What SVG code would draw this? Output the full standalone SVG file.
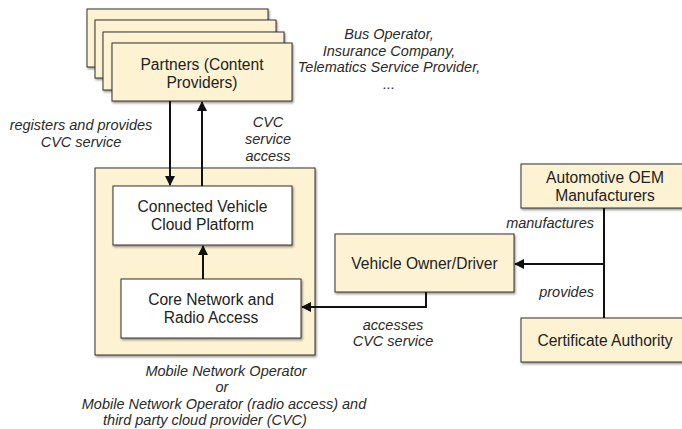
<svg xmlns="http://www.w3.org/2000/svg" width="682" height="429" viewBox="0 0 682 429">
<style>
  .box{fill:#fdf2d2;stroke:#333;stroke-width:1;filter:url(#sh);}
  .wbox{fill:#ffffff;stroke:#333;stroke-width:1;filter:url(#sh);}
  .t{font-family:"Liberation Sans",Arial,sans-serif;font-size:15.6px;fill:#222;text-anchor:middle;}
  .lab{font-family:"Liberation Sans",Arial,sans-serif;font-size:14.5px;font-style:italic;fill:#2a2a2a;text-anchor:middle;}
  .con{fill:none;stroke:#111;stroke-width:2;}
</style>
<defs>
  <filter id="sh" x="-10%" y="-10%" width="130%" height="140%">
    <feDropShadow dx="1" dy="1.5" stdDeviation="1" flood-color="#000" flood-opacity="0.45"/>
  </filter>
  <marker id="ah" viewBox="0 0 10 10" refX="9" refY="5" markerWidth="5.5" markerHeight="5" orient="auto" markerUnits="strokeWidth">
    <path d="M0,0 L10,5 L0,10 z" fill="#111"/>
  </marker>
</defs>

<g id="partners">
  <rect class="box" x="87" y="9" width="181" height="58"/>
  <rect class="box" x="95" y="20" width="181" height="58"/>
  <rect class="box" x="103" y="32" width="181" height="58"/>
  <rect class="box" x="112" y="43" width="180" height="58"/>
  <text class="t" x="202" y="70">Partners (Content</text>
  <text class="t" x="202" y="88">Providers)</text>
</g>

<g id="partners-note">
  <text class="lab" x="389" y="39">Bus Operator,</text>
  <text class="lab" x="389" y="56">Insurance Company,</text>
  <text class="lab" x="389" y="72">Telematics Service Provider,</text>
  <text class="lab" x="389" y="89">...</text>
</g>

<g id="mno">
  <rect class="box" x="95" y="168" width="220" height="187"/>
</g>

<g id="cvc">
  <rect class="wbox" x="113" y="186" width="179" height="59"/>
  <text class="t" x="202.5" y="212">Connected Vehicle</text>
  <text class="t" x="202.5" y="230">Cloud Platform</text>
</g>

<g id="core">
  <rect class="wbox" x="121" y="279" width="180" height="59"/>
  <text class="t" x="211" y="305">Core Network and</text>
  <text class="t" x="211" y="323">Radio Access</text>
</g>

<g id="vehicle">
  <rect class="box" x="335" y="234" width="179" height="58"/>
  <text class="t" x="424.5" y="269">Vehicle Owner/Driver</text>
</g>

<g id="oem">
  <rect class="box" x="521" y="164" width="170" height="44"/>
  <text class="t" x="605" y="182.5">Automotive OEM</text>
  <text class="t" x="605" y="200.5">Manufacturers</text>
</g>

<g id="ca">
  <rect class="box" x="521" y="318" width="170" height="44"/>
  <text class="t" x="605" y="346">Certificate Authority</text>
</g>

<g id="connectors">
  <path class="con" d="M170,101 V185" marker-end="url(#ah)"/>
  <path class="con" d="M202,186 V102" marker-end="url(#ah)"/>
  <path class="con" d="M203,279 V246" marker-end="url(#ah)"/>
  <path class="con" d="M426,292 V307 H302" marker-end="url(#ah)"/>
  <path class="con" d="M604,208 V318"/>
  <path class="con" d="M604,264 H515" marker-end="url(#ah)"/>
</g>

<g id="labels">
  <text class="lab" x="81" y="130">registers and provides</text>
  <text class="lab" x="81" y="147">CVC service</text>
  <text class="lab" x="268" y="127">CVC</text>
  <text class="lab" x="268" y="144">service</text>
  <text class="lab" x="268" y="161">access</text>
  <text class="lab" x="393" y="330">accesses</text>
  <text class="lab" x="393" y="346">CVC service</text>
  <text class="lab" x="594" y="228" style="text-anchor:end">manufactures</text>
  <text class="lab" x="594" y="297" style="text-anchor:end">provides</text>
  <text class="lab" x="226" y="375.5">Mobile Network Operator</text>
  <text class="lab" x="222" y="392">or</text>
  <text class="lab" x="224" y="408.5">Mobile Network Operator (radio access) and</text>
  <text class="lab" x="205" y="425">third party cloud provider (CVC)</text>
</g>
</svg>
